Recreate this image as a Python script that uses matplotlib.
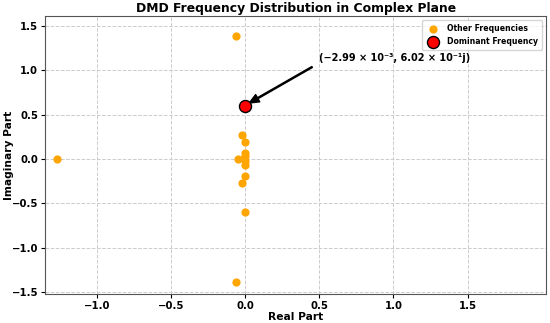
import numpy as np
import matplotlib
matplotlib.use("Agg")
import matplotlib.pyplot as plt

# DMD eigenvalues
real_parts = [-1.27, -0.061, -0.061, -0.003, -0.003, -0.025, -0.025, 0.0, 0.0,
              0.0, 0.0, 0.0, 0.0, -0.05]
imag_parts = [0.0, 1.383, -1.383, 0.602, -0.600, 0.271, -0.271, 0.195, -0.195,
              0.068, -0.064, 0.030, -0.026, 0.0]
dom_real = -2.99e-3
dom_imag = 6.02e-1
dom_label = '(\u22122.99 \u00d7 10\u207b\u00b3, 6.02 \u00d7 10\u207b\u00b9j)'

fig = plt.figure(figsize=(5.5, 3.23), dpi=100)
ax = fig.add_axes([0.082, 0.09, 0.911, 0.86])

ax.scatter(real_parts, imag_parts, color='orange', s=24, label='Other Frequencies', zorder=3)
ax.scatter([dom_real], [dom_imag], color='red', edgecolor='black', s=75, linewidth=1,
           label='Dominant Frequency', zorder=4)

ax.annotate(dom_label,
            xy=(dom_real, dom_imag), xytext=(0.5, 1.14),
            fontsize=7, fontweight='bold', va='center',
            arrowprops=dict(facecolor='black', edgecolor='black', shrink=0.06,
                            width=0.8, headwidth=6, headlength=7))

ax.set_xlim(-1.35, 2.03)
ax.set_ylim(-1.52, 1.61)
ax.set_xticks([-1.0, -0.5, 0.0, 0.5, 1.0, 1.5])
ax.set_yticks([-1.5, -1.0, -0.5, 0.0, 0.5, 1.0, 1.5])

ax.set_title('DMD Frequency Distribution in Complex Plane', fontsize=8.9, fontweight='bold', pad=3)
ax.set_xlabel('Real Part', fontsize=7.7, fontweight='bold', labelpad=1)
ax.set_ylabel('Imaginary Part', fontsize=7.7, fontweight='bold')
ax.yaxis.set_label_coords(-0.062, 0.5)
for lbl in ax.get_xticklabels() + ax.get_yticklabels():
    lbl.set_fontweight('bold')
ax.tick_params(labelsize=7.3, length=3, pad=2)

ax.grid(True, linestyle='--', color='#cccccc', linewidth=0.7)
ax.set_axisbelow(True)
for s in ax.spines.values():
    s.set_color('#555555')

leg = ax.legend(loc='upper right', prop={'weight': 'bold', 'size': 5.6},
                borderpad=0.5, handletextpad=0.8)

fig.savefig('out.png', dpi=100)
